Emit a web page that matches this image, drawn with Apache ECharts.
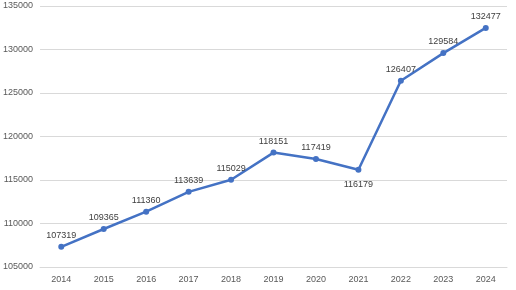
<!DOCTYPE html>
<html><head><meta charset="utf-8">
<script src="https://cdn.jsdelivr.net/npm/echarts@6/dist/echarts.min.js"></script>
<style>html,body{margin:0;padding:0;background:#fff}#c{width:516px;height:290px}</style>
</head><body><div id="c"></div>
<script>
const years = ['2014','2015','2016','2017','2018','2019','2020','2021','2022','2023','2024'];
const values = [107319,109365,111360,113639,115029,118151,117419,116179,126407,129584,132477];
const belowIdx = [7];
const chart = echarts.init(document.getElementById('c'));
chart.setOption({
  animation:false,
  grid:{left:40,right:9,top:6,bottom:23},
  xAxis:{type:'category',data:years,boundaryGap:true,
    axisLine:{show:true,lineStyle:{color:'#d9d9d9'}},axisTick:{show:false},
    axisLabel:{color:'#595959',fontFamily:'Liberation Sans',fontSize:9,margin:8}},
  yAxis:{type:'value',min:105000,max:135000,interval:5000,
    axisLine:{show:false},axisTick:{show:false},
    splitLine:{lineStyle:{color:'#d9d9d9',width:1}},
    axisLabel:{color:'#595959',fontFamily:'Liberation Sans',fontSize:9,margin:7,formatter:v=>String(v)}},
  series:[{type:'line',data:values.map((v,i)=>({value:v,label:{position:belowIdx.includes(i)?'bottom':'top',distance:belowIdx.includes(i)?7:4}})),
    symbol:'circle',symbolSize:6,
    lineStyle:{color:'#4472C4',width:2.5},itemStyle:{color:'#4472C4'},
    label:{show:true,color:'#404040',fontFamily:'Liberation Sans',fontSize:9}}]
});
</script></body></html>
